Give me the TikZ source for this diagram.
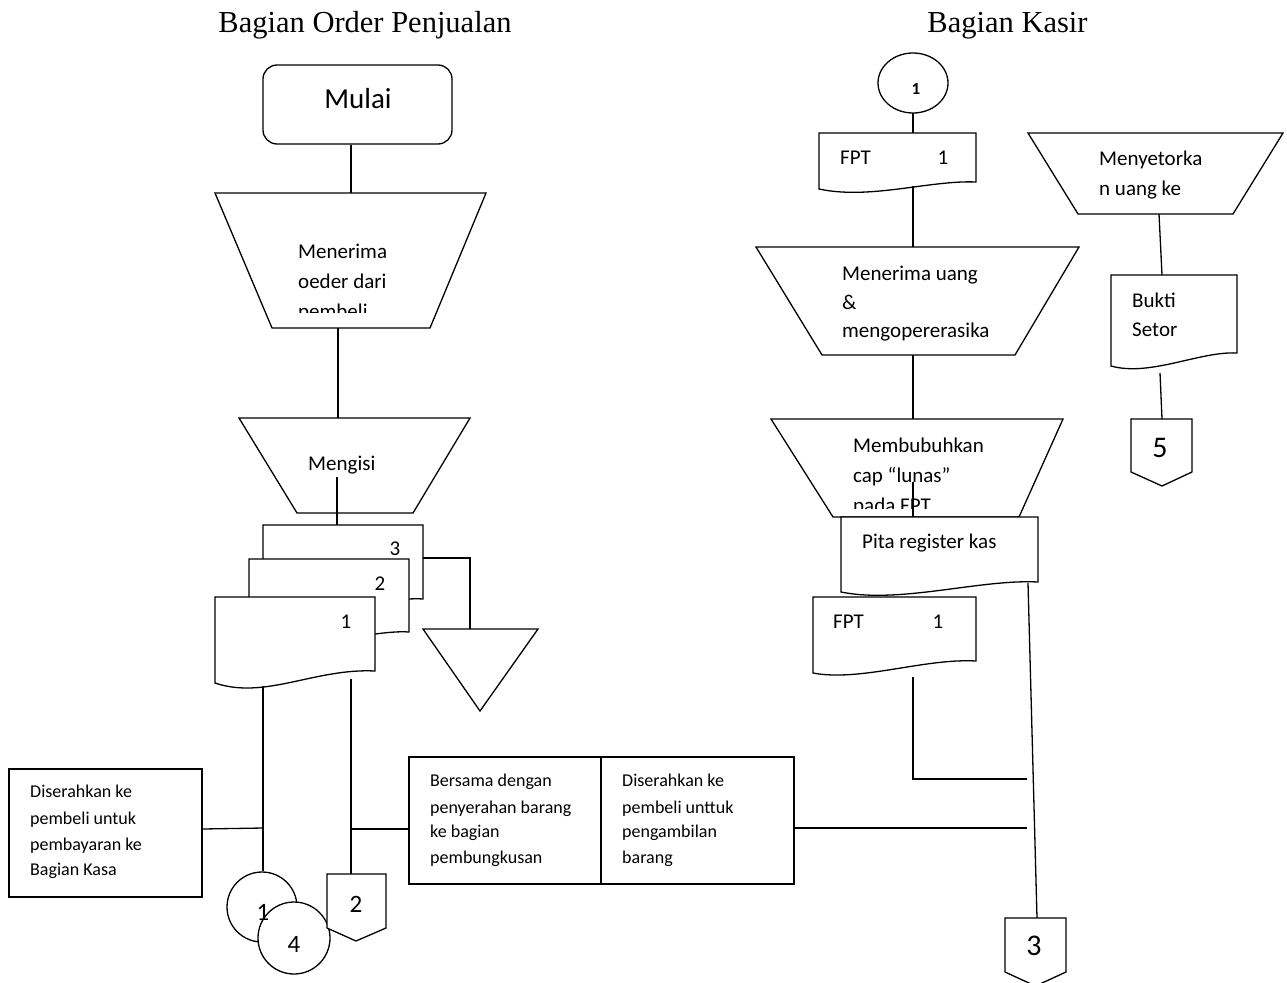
\documentclass[tikz,border=0pt]{standalone}
\usepackage{fontspec}
\setmainfont{Carlito}
\newfontfamily\titlefont{Liberation Serif}
\begin{document}
\begin{tikzpicture}[x=1pt,y=-1pt,
  ln/.style={line width=1.3pt, line join=miter},
  shp/.style={ln, draw, fill=white},
  txt/.style={font=\fontsize{21}{30}\selectfont, anchor=base west, inner sep=0pt},
  txs/.style={font=\fontsize{18}{26}\selectfont, anchor=base west, inner sep=0pt},
  num/.style={font=\fontsize{21}{25}\selectfont, anchor=base, inner sep=0pt},
  numm/.style={font=\fontsize{25}{30}\selectfont, anchor=base, inner sep=0pt},
  numl/.style={font=\fontsize{30}{34}\selectfont, anchor=base, inner sep=0pt},
  ttl/.style={font=\titlefont\fontsize{30.5}{36}\selectfont, anchor=base, inner sep=0pt}]
\useasboundingbox (0,0) rectangle (1287,982);

% ---------------- column headings ----------------
\node[ttl] (h1) at (365,33) {Bagian Order Penjualan};
\node[ttl] (h2) at (1007.5,33) {Bagian Kasir};

% ================= Bagian Order Penjualan =================
% start terminator
\node[shp, rounded corners=14pt, minimum width=189pt, minimum height=79pt, inner sep=0pt] (mulai) at (357.5,104.5) {};
\node[font=\fontsize{29}{34}\selectfont, anchor=base, inner sep=0pt] (mulaiT) at (358,108) {Mulai};

% manual operation: receive order
\draw[shp] (215,193) -- (486,193) -- (430,328) -- (272,328) -- cycle;
\coordinate (op1n) at (351,193);
\coordinate (op1s) at (338,328);
\begin{scope}
  \clip (215,193) rectangle (486,312);
  \node[txt] (op1a) at (298,258) {Menerima};
  \node[txt] (op1b) at (298,288) {oeder dari};
  \node[txt] (op1c) at (298,318) {pembeli};
\end{scope}
\draw[ln] (op1n |- mulai.south) -- (op1n);

% manual operation: fill in form
\draw[shp] (239,418) -- (470,418) -- (413,513) -- (297,513) -- cycle;
\coordinate (op2n) at (338,418);
\coordinate (op2m) at (337,477);
\node[txt] (op2t) at (308,470) {Mengisi};
\draw[ln] (op1s) -- (op2n);

% three-copy document stack
\draw[shp] (263,525) -- (423,525) -- (423,599) .. controls (383,596) and (300,624) .. (263,611) -- cycle;
\draw[shp] (249,559) -- (409,559) -- (409,632) .. controls (369,629) and (286,657) .. (249,644) -- cycle;
\draw[shp] (215,597) -- (375,597) -- (375,671) .. controls (315,668) and (265,700) .. (215,683) -- cycle;
\node[num] (d3) at (395,555) {3};
\node[num] (d2) at (380,590) {2};
\node[num] (d1) at (346,628) {1};
\coordinate (d3top) at (337,525);
\coordinate (d3r) at (423,558);
\coordinate (d1a) at (263,686);
\coordinate (d1b) at (351,679);
\draw[ln] (op2m) -- (d3top);

% archive (file) triangle
\draw[shp] (423,629) -- (538,629) -- (480,711) -- cycle;
\coordinate (arch) at (470,629);
\draw[ln] (d3r) -- (arch |- d3r) -- (arch);

% note boxes
\node[shp, minimum width=193pt, minimum height=128pt, inner sep=0pt] (noteL) at (105.5,833) {};
\node[txs] (nL1) at (30,797) {Diserahkan ke};
\node[txs] (nL2) at (30,824) {pembeli untuk};
\node[txs] (nL3) at (30,850) {pembayaran ke};
\node[txs] (nL4) at (30,875) {Bagian Kasa};

\node[shp, minimum width=192pt, minimum height=127pt, inner sep=0pt] (noteM) at (505,820.5) {};
\node[shp, minimum width=193pt, minimum height=127pt, inner sep=0pt] (noteR) at (697.5,820.5) {};
\node[txs] (nM1) at (430,786) {Bersama dengan};
\node[txs] (nM2) at (430,813) {penyerahan barang};
\node[txs] (nM3) at (430,837) {ke bagian};
\node[txs] (nM4) at (430,863) {pembungkusan};
\node[txs] (nR1) at (622,786) {Diserahkan ke};
\node[txs] (nR2) at (622,813) {pembeli unttuk};
\node[txs] (nR3) at (622,837) {pengambilan};
\node[txs] (nR4) at (622,863) {barang};

% connectors at the bottom
\node[shp, circle, minimum size=70pt, inner sep=0pt] (c1) at (262,907) {};
\node[shp, circle, minimum size=72pt, inner sep=0pt] (c4) at (294,938) {};
\node[numm] (c1t) at (263,920) {1};
\node[numm] (c4t) at (294,952) {4};
\draw[shp] (327,874) -- (386,874) -- (386,928) -- (356,941) -- (327,928) -- cycle;
\coordinate (p2) at (351,874);
\node[numm] (p2t) at (356,912) {2};

\draw[ln] (d1a) -- (c1.north -| d1a);
\draw[ln] (d1b) -- (p2);
\draw[ln] (noteL.east |- 0,829) -- (263,828);
\draw[ln] (351,829) -- (noteM.west |- 0,829);

% ================= Bagian Kasir =================
% incoming connector
\draw[ln] (913,83) ellipse [x radius=35, y radius=30];
\coordinate (k1) at (913,113);
\node[font=\bfseries\fontsize{17}{20}\selectfont, anchor=base, inner sep=0pt] (k1t) at (916,94) {1};

% FPT document
\draw[shp] (819,133) -- (976,133) -- (976,182) .. controls (930,180) and (870,200) .. (819,189) -- cycle;
\node[txt] (fpt1a) at (840,164) {FPT};
\node[num] (fpt1b) at (943,164) {1};
\coordinate (fpt1n) at (913,133);
\coordinate (fpt1s) at (913,186);
\draw[ln] (k1) -- (fpt1n);

% manual operation: receive money
\draw[shp] (756,247) -- (1079,247) -- (1015,355) -- (822,355) -- cycle;
\coordinate (op3n) at (913,247);
\coordinate (op3s) at (913,355);
\node[txt] (op3a) at (842,280) {Menerima uang};
\node[txt] (op3b) at (842,309) {\&};
\node[txt] (op3c) at (842,337) {mengopererasika};
\draw[ln] (fpt1s) -- (op3n);

% manual operation: stamp
\draw[shp] (771,419) -- (1063,419) -- (1019,517) -- (833,517) -- cycle;
\coordinate (op4n) at (913,419);
\coordinate (op4m) at (913,482);
\begin{scope}
  \clip (771,419) rectangle (1063,508);
  \node[txt] (op4a) at (853,452) {Membubuhkan};
  \node[txt] (op4b) at (853,482) {cap “lunas”};
  \node[txt] (op4c) at (853,512) {pada FPT};
\end{scope}
\draw[ln] (op3s) -- (op4n);
\coordinate (pitaN) at (913,517);
\draw[ln] (op4m) -- (pitaN);

% cash register tape
\draw[shp] (841,517) -- (1038,517) -- (1038,582) .. controls (980,579) and (900,604) .. (841,592) -- cycle;
\node[txt] (pitat) at (862,548) {Pita register kas};
\coordinate (pitaS) at (1028,583);

% stamped FPT
\draw[shp] (813,597) -- (976,597) -- (976,661) .. controls (925,658) and (860,682) .. (813,673) -- cycle;
\node[txt] (fpt2a) at (833,628) {FPT};
\node[num] (fpt2b) at (938,628) {1};
\coordinate (fpt2s) at (913,677);
\coordinate (j1) at (1027,779);
\draw[ln] (fpt2s) -- (fpt2s |- j1) -- (j1);

% off-page connector 3
\draw[shp] (1005,918) -- (1066,918) -- (1066,972) -- (1035.5,986) -- (1005,972) -- cycle;
\coordinate (p3) at (1037,918);
\node[numl] (p3t) at (1034,955) {3};
\draw[ln] (pitaS) -- (p3);
\draw[ln] (noteR.east |- 0,828) -- (1027,828);

% manual operation: deposit
\draw[shp] (1028,133) -- (1283,133) -- (1233,214) -- (1078,214) -- cycle;
\node[txt] (op5a) at (1099,165) {Menyetorka};
\node[txt] (op5b) at (1099,195) {n uang ke};
\coordinate (op5s) at (1159,214);

% deposit slip
\draw[shp] (1111,275) -- (1237,275) -- (1237,353) .. controls (1200,351) and (1150,377) .. (1111,366) -- cycle;
\node[txt] (bs1) at (1132,307) {Bukti};
\node[txt] (bs2) at (1132,336) {Setor};
\coordinate (bsN) at (1162,275);
\coordinate (bsS) at (1160,373);
\draw[ln] (op5s) -- (bsN);

% off-page connector 5
\draw[shp] (1131,419) -- (1192,419) -- (1192,472) -- (1162,486) -- (1131,472) -- cycle;
\coordinate (p5) at (1162,419);
\node[numl] (p5t) at (1160,457) {5};
\draw[ln] (bsS) -- (p5);
\end{tikzpicture}
\end{document}
